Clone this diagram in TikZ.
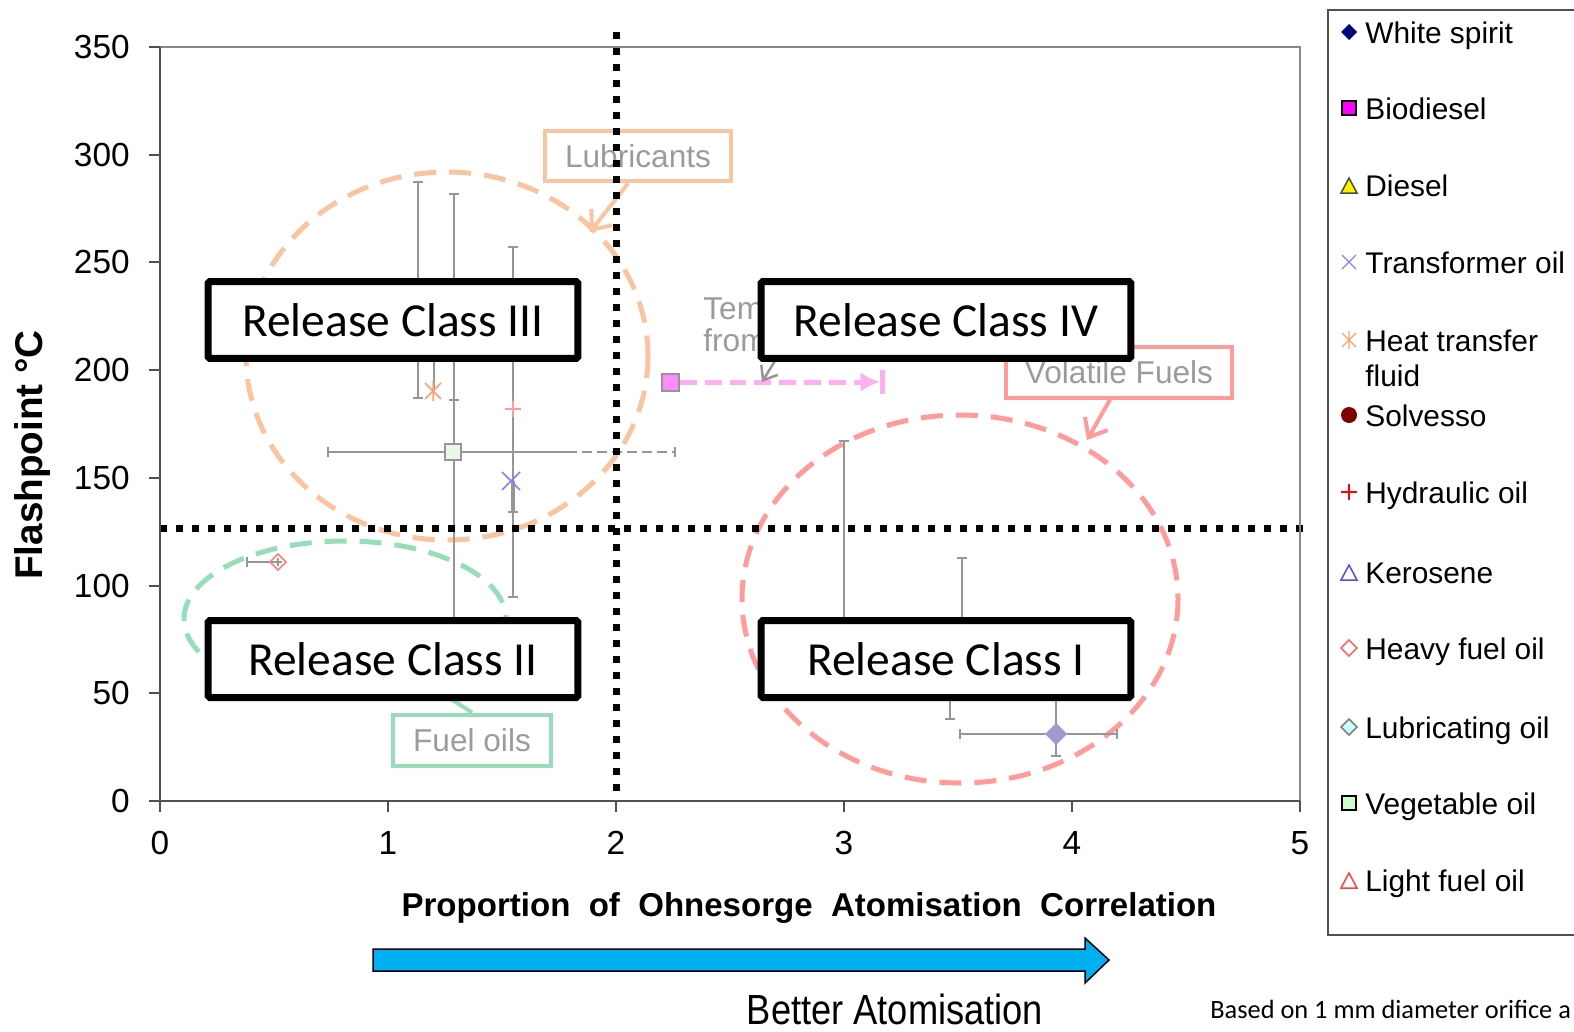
\documentclass[tikz,border=0pt]{standalone}
\usepackage{fontspec}
\setmainfont{Liberation Sans}
\newfontfamily\calibrifont{Carlito}
\usetikzlibrary{arrows.meta,positioning}
\definecolor{PeachLine}{RGB}{249,196,160}
\definecolor{MintLine}{RGB}{150,222,185}
\definecolor{SalmonLine}{RGB}{255,155,155}
\definecolor{LabelGray}{RGB}{155,155,155}
\definecolor{BarGray}{RGB}{150,150,150}
\definecolor{AxisGray}{RGB}{80,80,80}
\definecolor{FrameGray}{RGB}{135,135,135}
\definecolor{BioPink}{RGB}{255,140,255}
\definecolor{ArrowPink}{RGB}{255,175,240}
\definecolor{SkyArrow}{RGB}{0,176,240}
\definecolor{SpiritNavy}{RGB}{0,0,128}
\definecolor{SpiritLilac}{RGB}{155,155,205}
\definecolor{VegGreen}{RGB}{204,255,204}
\definecolor{VegPale}{RGB}{232,248,228}
\definecolor{LubeCyan}{RGB}{204,255,255}
\definecolor{SolvRed}{RGB}{128,0,0}
\definecolor{HeatOrange}{RGB}{250,160,110}
\definecolor{TrafoBlue}{RGB}{130,130,255}
\definecolor{BioMagenta}{RGB}{255,0,255}

\begin{document}
\begin{tikzpicture}[x=0.02cm,y=-0.02cm,
  classbox/.style={draw,line width=0.14cm,fill=white,rounded corners=1pt,
    minimum width=7.4cm,minimum height=1.54cm,inner sep=0pt,
    font=\calibrifont\fontsize{27}{32}\selectfont},
  tagbox/.style={line width=0.08cm,minimum height=1.02cm,inner sep=0pt,
    text=LabelGray,font=\fontsize{18}{21}\selectfont},
  ticklab/.style={inner sep=0pt,font=\fontsize{19}{22}\selectfont},
  legtext/.style={anchor=base west,inner sep=0pt,font=\fontsize{17}{20}\selectfont},
  ebar/.style={BarGray,line width=0.04cm},
  divider/.style={line width=0.14cm,dash pattern=on 0.14cm off 0.18cm},
  cluster/.style={line width=0.1cm,dash pattern=on 0.44cm off 0.26cm},
  pointer/.style={line width=0.08cm,-{Straight Barb[length=9pt,width=15pt]}}]
  \useasboundingbox (0,0) rectangle (1574,1031);

  % dashed groups
  \draw[cluster,PeachLine] (447,356) ellipse [x radius=201,y radius=184];
  \draw[cluster,SalmonLine] (960,599) ellipse [x radius=218,y radius=184];
  \draw[cluster,MintLine] (345,619) ellipse [x radius=161,y radius=78];

  \node[tagbox,draw=PeachLine,minimum width=3.72cm] (lub) at (638,156) {Lubricants};
  \node[tagbox,draw=SalmonLine,minimum width=4.52cm] (vol) at (1119,372) {Volatile Fuels};
  \node[tagbox,draw=MintLine,minimum width=3.18cm] (fuel) at (472,740) {Fuel oils};
  \coordinate (lubtip) at (590,232);
  \coordinate (voltip) at (1087,440);
  \coordinate (fueltip) at (445,695);
  \draw[pointer,PeachLine] (lub.250) -- (lubtip);
  \draw[pointer,SalmonLine] (vol.252) -- (voltip);
  \draw[MintLine,line width=0.08cm] (fuel.north) -- (fueltip);

  % error bars
  \draw[ebar] (418,182) -- (418,398);
  \draw[ebar] (454,194) -- (454,640);
  \draw[ebar] (513,247) -- (513,597);
  \draw[ebar,line width=0.07cm] (513,481) -- (513,512);
  \draw[ebar] (434,350) -- (434,391);
  \draw[ebar] (328,452) -- (567,452);
  \draw[ebar,dash pattern=on 0.2cm off 0.1cm] (567,452) -- (675,452);
  \draw[ebar] (247,562) -- (278,562);
  \draw[ebar] (844,441) -- (844,640);
  \draw[ebar] (962,558) -- (962,640);
  \draw[ebar] (950,680) -- (950,719);
  \draw[ebar] (960,734) -- (1117,734);
  \draw[ebar] (1056,680) -- (1056,756);
  \foreach \x/\y in {418/182,418/398,454/194,454/400,513/247,513/512,513/597,844/441,962/558,950/719,1056/756}
    \draw[ebar] (\x-5,\y) -- (\x+5,\y);
  \foreach \x/\y in {328/452,675/452,247/562,960/734,1117/734}
    \draw[ebar] (\x,\y-5) -- (\x,\y+5);

  % data points
  \draw[HeatOrange,line width=0.03cm] (425,383) -- (441,399) (425,399) -- (441,383) (433,381) -- (433,401);
  \draw[TrafoBlue,line width=0.03cm] (502,472) -- (520,490) (502,490) -- (520,472);
  \draw[SalmonLine,line width=0.03cm] (505,409) -- (521,409) (513,401) -- (513,417);
  \draw[SalmonLine!80!red,line width=0.03cm] (278,554) -- (286,562) -- (278,570) -- (270,562) -- cycle;
  \draw[BarGray,line width=0.03cm] (274,562) -- (282,562) (278,558) -- (278,566);
  \node[draw=BarGray,fill=VegPale,line width=0.04cm,minimum size=0.32cm,inner sep=0pt] (veg) at (453,452) {};
  \fill[SpiritLilac] (1056,723) -- (1067,734) -- (1056,745) -- (1045,734) -- cycle;

  % biodiesel shift
  \node[draw=BarGray,fill=BioPink,line width=0.04cm,minimum size=0.34cm,inner sep=0pt] (bio) at (670,382) {};
  \coordinate (biotip) at (880,382);
  \draw[ArrowPink,line width=0.1cm,dash pattern=on 0.34cm off 0.16cm,-{Latex[length=11pt,width=11pt]}] (bio.east) -- (biotip);
  \draw[ArrowPink,line width=0.1cm] (882,370) -- (882,394);
  \node[anchor=west,inner sep=0pt,text=LabelGray,font=\fontsize{18}{21}\selectfont] (temnote) at (703,309) {Tem};
  \node[anchor=west,inner sep=0pt,text=LabelGray,font=\fontsize{18}{21}\selectfont] (fromnote) at (703,340) {from};
  \coordinate (temtail) at (778,356);
  \coordinate (temtip) at (762,382);
  \draw[BarGray,line width=0.05cm,-{Straight Barb[length=7pt,width=11pt]}] (temtail) -- (temtip);

  % quadrant lines
  \draw[divider] (616,32) -- (616,801);
  \draw[divider] (160,528) -- (1310,528);

  \node[classbox] (rc3) at (393,320) {Release Class III};
  \node[classbox] (rc4) at (946,320) {Release Class IV};
  \node[classbox] (rc2) at (393,659) {Release Class II};
  \node[classbox] (rc1) at (946,659) {Release Class I};

  % axes
  \draw[FrameGray,line width=0.035cm] (160,47) -- (1300,47) -- (1300,801);
  \draw[AxisGray,line width=0.04cm] (160,47) -- (160,801) -- (1300,801);
  \foreach \v [evaluate=\v as \py using 801-2.1543*\v] in {0,50,...,350} {
    \draw[AxisGray,line width=0.04cm] (149,\py) -- (160,\py);
    \node[ticklab,anchor=east] (yt\v) at (130,\py) {\v};
  }
  \foreach \v [evaluate=\v as \px using 160+228*\v] in {0,...,5} {
    \draw[AxisGray,line width=0.04cm] (\px,801) -- (\px,812);
    \node[ticklab] (xt\v) at (\px,843) {\v};
  }
  \node[rotate=90,font=\bfseries\fontsize{22}{26}\selectfont] (ylab) at (33,455) {Flashpoint °C};
  \node[font=\bfseries\fontsize{18.8}{22}\selectfont] (xlab) at (809,908)
    {Proportion\ \ of\ \ Ohnesorge\ \ Atomisation\ \ Correlation};

  \fill[SkyArrow,draw=black,line width=0.03cm] (373,949) -- (1085,949) -- (1085,938)
    -- (1109,960) -- (1085,983) -- (1085,971) -- (373,971) -- cycle;
  \node[inner sep=0pt,font=\fontsize{24}{28}\addfontfeatures{FakeStretch=0.86}\selectfont] (better) at (895,1009) {Better Atomisation};
  \node[anchor=west,inner sep=0pt,font=\calibrifont\fontsize{15}{18}\selectfont] (basis) at (1210,1009) {Based on 1 mm diameter orifice a};

  % legend
  \draw[AxisGray,line width=0.03cm] (1328,10) rectangle (1620,935);
  \foreach \y/\txt in {32/White spirit,108/Biodiesel,185/Diesel,262/Transformer oil,
      340/Heat transfer,375/fluid,415/Solvesso,492/Hydraulic oil,572/Kerosene,
      648/Heavy fuel oil,727/Lubricating oil,803/Vegetable oil,880/Light fuel oil}
    \node[legtext] (leg\y) at (1365,\y+11) {\txt};
  \fill[SpiritNavy] (1349,24) -- (1357,32) -- (1349,40) -- (1341,32) -- cycle;
  \draw[black,fill=BioMagenta,line width=0.03cm] (1342,101) rectangle (1356,115);
  \draw[black!70,fill=yellow,line width=0.03cm] (1341,193) -- (1357,193) -- (1349,178) -- cycle;
  \draw[TrafoBlue,line width=0.025cm] (1342,255) -- (1356,269) (1342,269) -- (1356,255);
  \draw[HeatOrange,line width=0.025cm] (1342,333) -- (1356,347) (1342,347) -- (1356,333) (1349,331) -- (1349,349);
  \fill[SolvRed] (1349,415) circle (8);
  \draw[red,line width=0.025cm] (1341,492) -- (1357,492) (1349,484) -- (1349,500);
  \draw[blue!70,line width=0.03cm] (1341,580) -- (1357,580) -- (1349,565) -- cycle;
  \draw[red!60,line width=0.03cm] (1349,640) -- (1357,648) -- (1349,656) -- (1341,648) -- cycle;
  \draw[gray,fill=LubeCyan,line width=0.03cm] (1349,719) -- (1357,727) -- (1349,735) -- (1341,727) -- cycle;
  \draw[black,fill=VegGreen,line width=0.03cm] (1342,796) rectangle (1356,810);
  \draw[red!75,line width=0.03cm] (1341,888) -- (1357,888) -- (1349,873) -- cycle;
\end{tikzpicture}
\end{document}
